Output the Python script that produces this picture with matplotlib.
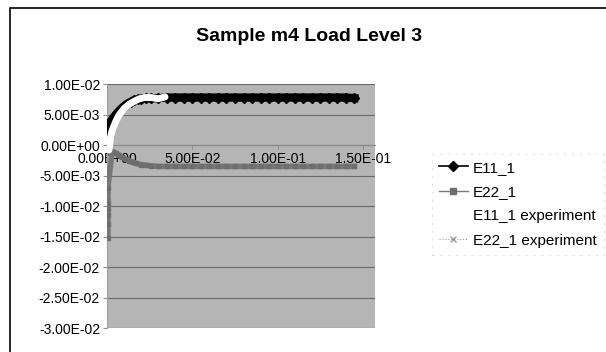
import matplotlib
matplotlib.use("Agg")
import matplotlib.pyplot as plt
from matplotlib.patches import Rectangle
from matplotlib.lines import Line2D
from matplotlib.ticker import FuncFormatter

plt.rcParams['font.family'] = ['Liberation Sans', 'DejaVu Sans']

# data (x = time, y = strain)
e11_x = [0.0, 0.0003, 0.0006, 0.001, 0.002, 0.004, 0.006, 0.008, 0.010, 0.012, 0.014,
         0.016, 0.018, 0.020, 0.023, 0.026, 0.030, 0.035, 0.040, 0.045, 0.050, 0.055,
         0.060, 0.065, 0.070, 0.075, 0.080, 0.085, 0.090, 0.095, 0.100, 0.105, 0.110,
         0.115, 0.120, 0.125, 0.130, 0.135, 0.140, 0.145]
e11_y = [0.0010, 0.0020, 0.0028, 0.0033, 0.0038, 0.0046, 0.0053, 0.0059, 0.0064, 0.0068, 0.0071,
         0.0074, 0.0075, 0.0076, 0.0077, 0.0077, 0.0077, 0.0078, 0.0078, 0.0078, 0.0078, 0.0078,
         0.0078, 0.0078, 0.0078, 0.0078, 0.0078, 0.0078, 0.0078, 0.0078, 0.0078, 0.0078, 0.0078,
         0.0078, 0.0078, 0.0078, 0.0078, 0.0078, 0.0078, 0.0077]

e22_x = [0.0005, 0.0005, 0.0005, 0.0005, 0.0005, 0.0005, 0.003, 0.005, 0.007, 0.009, 0.011,
         0.013, 0.015, 0.017, 0.020, 0.023, 0.026, 0.030, 0.035, 0.040, 0.045, 0.050, 0.055,
         0.060, 0.065, 0.070, 0.075, 0.080, 0.085, 0.090, 0.095, 0.100, 0.105, 0.110,
         0.115, 0.120, 0.125, 0.130, 0.135, 0.140, 0.145]
e22_y = [-0.0152, -0.0130, -0.0115, -0.0105, -0.0095, -0.0070, -0.0010, -0.0013, -0.0017, -0.0020, -0.0023,
         -0.0026, -0.0028, -0.0030, -0.0032, -0.0033, -0.0034, -0.0035, -0.0035, -0.0035, -0.0035, -0.0035, -0.0035,
         -0.0035, -0.0035, -0.0035, -0.0035, -0.0035, -0.0035, -0.0035, -0.0035, -0.0035, -0.0035, -0.0035,
         -0.0035, -0.0035, -0.0035, -0.0035, -0.0035, -0.0035, -0.0035]

e11_exp_x = [0.0012, 0.002, 0.003, 0.005, 0.007, 0.010, 0.013, 0.016, 0.019, 0.022, 0.026, 0.030, 0.034]
e11_exp_y = [-0.0008, 0.0012, 0.0024, 0.0038, 0.0049, 0.0060, 0.0067, 0.0072, 0.0076, 0.0078, 0.0078, 0.0076, 0.0079]

e22_exp_x = [0.0008, 0.0008, 0.0008, 0.0008, 0.0008, 0.0008, 0.0008]
e22_exp_y = [0.0, -0.0015, -0.0030, -0.0045, -0.0060, -0.0075, -0.0090]

y_ticks = [-0.03, -0.025, -0.02, -0.015, -0.01, -0.005, 0.0, 0.005, 0.01]
x_ticks = [0.0, 0.05, 0.10, 0.15]

fig = plt.figure(figsize=(6.06, 3.52), dpi=100)
ax = fig.add_axes([0.1766, 0.068, 0.442, 0.693])
ax.set_facecolor('#b5b5b5')

# series are drawn heavy because the original has many overlapping points
ax.plot(e11_x, e11_y, color='black', lw=6, marker='D', ms=5, zorder=3)
ax.plot(e22_x, e22_y, color='#777777', lw=4, marker='s', ms=3, mfc='#6e6e6e', mec='#6e6e6e',
        zorder=3)
ax.plot(e11_exp_x, e11_exp_y, color='white', lw=5, zorder=4, solid_capstyle='round')
ax.plot(e22_exp_x, e22_exp_y, color='#e0e0e0', lw=1, ls=':', marker='x', ms=3,
        mec='#5a5a5a', zorder=2)

ax.set_xlim(0, 0.157)
ax.set_ylim(-0.03, 0.01)
ax.set_yticks(y_ticks)
ax.set_xticks(x_ticks)
fmt = FuncFormatter(lambda v, p: '{:.2E}'.format(0.0 if abs(v) < 1e-12 else v))
ax.yaxis.set_major_formatter(fmt)
ax.xaxis.set_major_formatter(fmt)
ax.grid(axis='y', color='#6a6a6a', lw=0.8)
ax.set_axisbelow(True)

ax.spines['bottom'].set_position(('data', 0))
ax.spines['top'].set_visible(False)
ax.spines['right'].set_visible(False)
ax.spines['left'].set_color('#a0a0a0')
ax.spines['bottom'].set_color('#8a8a8a')
ax.tick_params(axis='both', labelsize=10, length=3, color='#909090', pad=2)
for lab in ax.get_xticklabels():
    lab.set_zorder(5)

fig.text(0.51, 0.895, 'Sample m4 Load Level 3', ha='center', va='center',
         fontsize=14, fontweight='bold')

handles = [
    Line2D([], [], color='black', lw=1.2, marker='D', ms=5),
    Line2D([], [], color='#7a7a7a', lw=1, marker='s', ms=5, mfc='#6e6e6e', mec='#6e6e6e'),
    Line2D([], [], color='white', lw=1),
    Line2D([], [], color='#9a9a9a', lw=0.8, ls=':', marker='x', ms=4, mec='#9a9a9a'),
]
labels = ['E11_1', 'E22_1', 'E11_1 experiment', 'E22_1 experiment']
leg = fig.legend(handles, labels, loc='upper left', bbox_to_anchor=(0.700, 0.585),
                 fontsize=11, frameon=True, fancybox=False, handlelength=1.9,
                 handletextpad=0.35, labelspacing=0.68, borderpad=0.45)
leg.get_frame().set_edgecolor('#d8d8d8')
leg.get_frame().set_linestyle((0, (2, 5)))
leg.get_frame().set_linewidth(0.8)

fig.patches.append(Rectangle((10 / 606, -0.05), 1.2, 1 - 8 / 352 + 0.05,
                             transform=fig.transFigure, fill=False,
                             edgecolor='black', lw=1.2))

fig.savefig('out.png', dpi=100)
